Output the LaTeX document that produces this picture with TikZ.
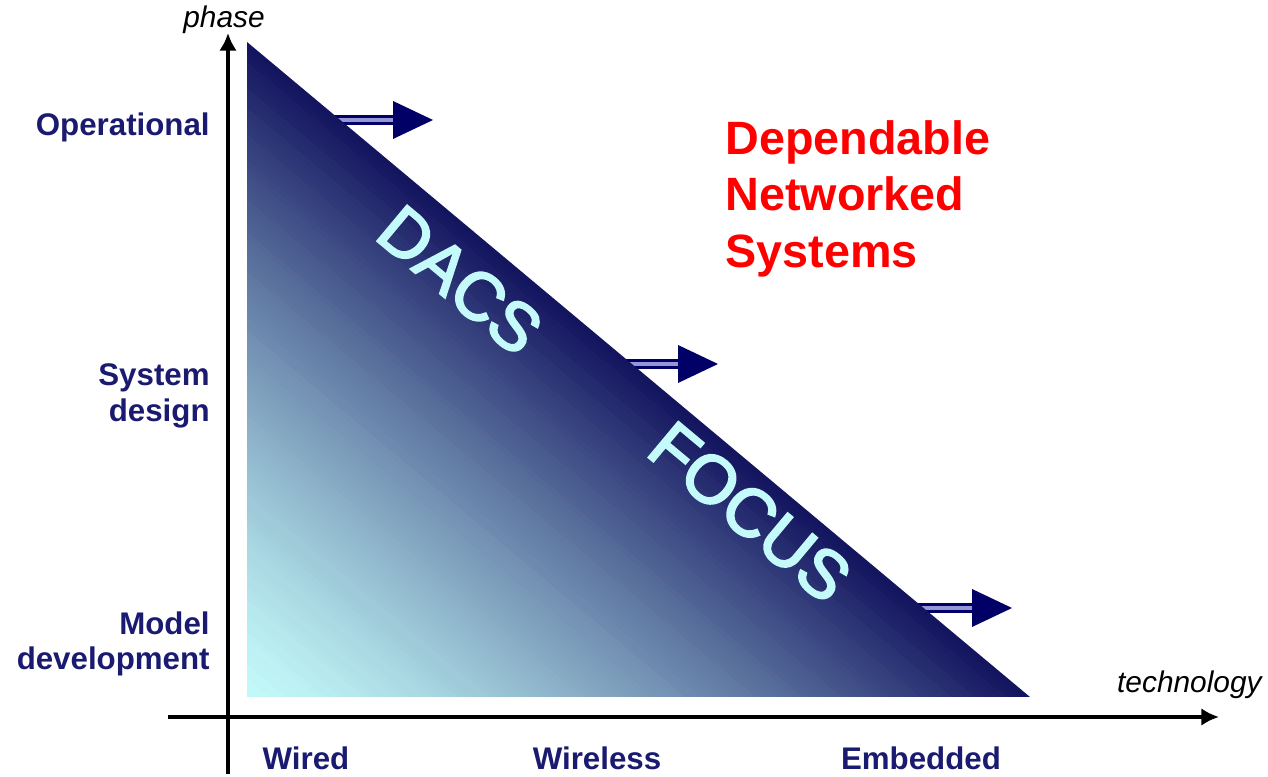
\documentclass[tikz,border=0pt]{standalone}
\usepackage{fontspec}
\setmainfont{Liberation Sans}
\newfontfamily\wordfont[FakeBold=3]{Liberation Sans}
\usetikzlibrary{calc,arrows.meta}

\definecolor{labelink}{RGB}{26,26,112}
\definecolor{arrowink}{RGB}{0,0,102}
\definecolor{shaftwash}{RGB}{150,150,215}
\definecolor{triwash}{RGB}{194,248,248}
\definecolor{tricore}{RGB}{16,16,92}
\definecolor{letterwash}{RGB}{196,250,250}
\definecolor{slogared}{RGB}{255,0,0}

\tikzset{
  axisline/.style={line width=2.5pt, -{Latex[length=10pt,width=10pt]}},
  axisname/.style={font=\fontsize{17}{20}\selectfont\itshape, inner sep=0pt},
  phaselabel/.style={font=\fontsize{17.8}{20.2}\selectfont\bfseries, text=labelink,
    align=right, anchor=east, inner sep=0pt},
  techlabel/.style={font=\fontsize{17.8}{20.2}\selectfont\bfseries, text=labelink,
    anchor=base, inner sep=0pt},
  slogan/.style={font=\fontsize{26.6}{32.3}\selectfont\bfseries, text=slogared,
    align=left, anchor=north west, inner sep=0pt},
  diagword/.style={font=\wordfont\fontsize{38.5}{40}\selectfont, text=letterwash,
    rotate=-39.9, inner sep=0pt},
  shaft/.style={draw=arrowink, line width=1.7pt, double=shaftwash, double distance=2.8pt},
}

% push arrow out of the hypotenuse: (shaft start : head base : height)
\def\pusharrow(#1:#2:#3){\draw[shaft] (#1,#3) -- (#2,#3);
  \fill[arrowink] (#2,#3+19) -- (#2+40,#3) -- (#2,#3-19) -- cycle;}

\begin{document}
\begin{tikzpicture}[x=0.02cm, y=0.02cm]
  %%%%% START %%%%%
  \useasboundingbox (0,0) rectangle (1268,777);

  \coordinate (apex) at (247,735);
  \coordinate (corner) at (247,80);
  \coordinate (toe) at (1030,80);

  % arrows leaving the triangle
  \pusharrow(325:393:657)
  \pusharrow(618:678:413)
  \pusharrow(909:972:169)

  % triangle, shaded from the corner to the hypotenuse
  \begin{scope}
    \clip (apex) -- (corner) -- (toe) -- cycle;
    \foreach \i in {0,...,99}{
      \pgfmathsetmacro\ta{\i/100}
      \pgfmathsetmacro\tb{(\i+1.5)/100}
      \pgfmathtruncatemacro\pct{100*pow(\i/100,1.3)}
      \fill[tricore!\pct!triwash] ($(corner)!\ta!(apex)$) -- ($(corner)!\tb!(apex)$)
        -- ($(corner)!\tb!(toe)$) -- ($(corner)!\ta!(toe)$) -- cycle;
    }
  \end{scope}

  \node[diagword] (dacs) at (460,497) {DACS};
  \node[diagword] (focus) at (750,265) {FOCUS};

  % axes
  \coordinate (ybot) at (228,3);
  \coordinate (ytop) at (228,744);
  \coordinate (xleft) at (168,60);
  \coordinate (xright) at (1219,60);
  \draw[axisline] (ybot) -- (ytop);
  \draw[axisline] (xleft) -- (xright);

  \node[axisname, anchor=base] (phasename) at (224,749) {phase};
  \node[axisname, anchor=base east] (techname) at (1262,84) {technology};

  % phases
  \node[phaselabel] (operational) at (210,650) {Operational};
  \node[phaselabel] (sysdesign) at (210,381) {System\\design};
  \node[phaselabel] (modeldev) at (210,133) {Model\\development};

  % technologies
  \node[techlabel] (wired) at (306,7) {Wired};
  \node[techlabel] (wireless) at (597,7) {Wireless};
  \node[techlabel] (embedded) at (921,7) {Embedded};

  \node[slogan] (dns) at (725,657) {Dependable\\Networked\\Systems};
  %%%%% END %%%%%
\end{tikzpicture}
\end{document}
